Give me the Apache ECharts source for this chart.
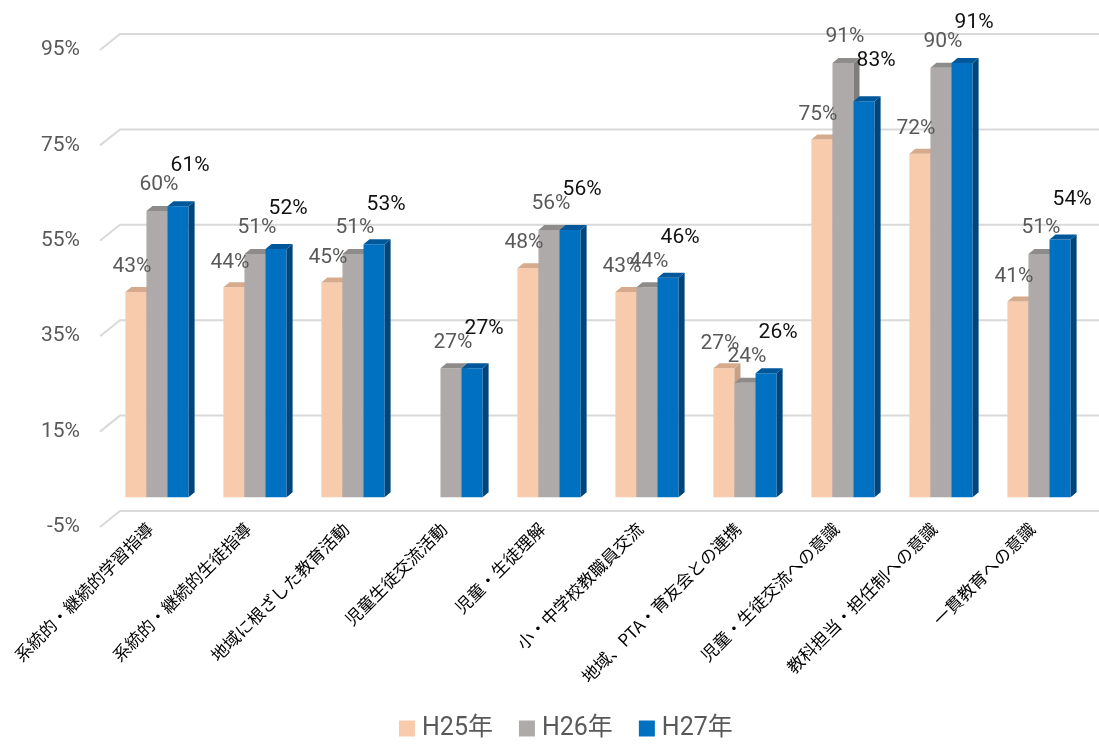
<!DOCTYPE html>
<html>
<head>
<meta charset="utf-8">
<script src="https://cdn.jsdelivr.net/npm/echarts@6/dist/echarts.min.js"></script>
<style>
  html, body { margin: 0; padding: 0; background: #fff; }
  #chart { width: 1099px; height: 746px; }
</style>
</head>
<body>
<div id="chart"></div>
<script>
// Categories and yearly percentages
const categories = [
  '系統的・継続的学習指導',
  '系統的・継続的生徒指導',
  '地域に根ざした教育活動',
  '児童生徒交流活動',
  '児童・生徒理解',
  '小・中学校教職員交流',
  '地域、PTA・育友会との連携',
  '児童・生徒交流への意識',
  '教科担当・担任制への意識',
  '一貫教育への意識'
];
const years = ['H25年', 'H26年', 'H27年'];
const h25 = [43, 44, 45, null, 48, 43, 27, 75, 72, 41];
const h26 = [60, 51, 51, 27, 56, 44, 24, 91, 90, 51];
const h27 = [61, 52, 53, 27, 56, 46, 26, 83, 91, 54];
const yMin = -5;
const yMax = 95;
const yStep = 20;
const yTicks = [-5, 15, 35, 55, 75, 95];

// Shading for each year: front face, side face, top face, label colour
const palette = [
  { front: '#F8CBAD', side: '#C79F84', top: '#D6AA8C', label: '#595959' },
  { front: '#AEAAAA', side: '#807D7D', top: '#8E8B8B', label: '#595959' },
  { front: '#0070C0', side: '#00467D', top: '#00589A', label: '#111111' }
];
// Label offsets (dx, rise above the front top edge) per year
const labelShift = [[-4, 25], [2, 26], [12, 40]];

const DEPTH_X = 6, DEPTH_Y = 5;   // extrusion of the columns
const LIFT = 6;                    // columns sit slightly behind the front axis plane
const SHIFT_X = 7;                 // and slightly to the right of the label ticks

function barRenderer(k) {
  const c = palette[k];
  return function (params, api) {
    const v = api.value(1);
    if (v == null || isNaN(v)) return;
    const idx = api.value(0);
    const topPt = api.coord([idx, v]);
    const basePt = api.coord([idx, 0]);
    const band = api.size([1, 0])[0];
    const w = band * 0.215;
    const cx = topPt[0] + SHIFT_X + (k - 1) * w;
    const x0 = cx - w / 2, x1 = cx + w / 2;
    const yTop = topPt[1] - LIFT, yBase = basePt[1] - LIFT;
    return {
      type: 'group',
      children: [
        { type: 'rect', shape: { x: x0, y: yTop, width: w, height: yBase - yTop },
          style: { fill: c.front } },
        { type: 'polygon', shape: { points: [[x1, yTop], [x1 + DEPTH_X, yTop - DEPTH_Y], [x1 + DEPTH_X, yBase - DEPTH_Y], [x1, yBase]] },
          style: { fill: c.side } },
        { type: 'polygon', shape: { points: [[x0, yTop], [x0 + DEPTH_X, yTop - DEPTH_Y], [x1 + DEPTH_X, yTop - DEPTH_Y], [x1, yTop]] },
          style: { fill: c.top } },
        { type: 'text', z2: 10,
          style: { text: v + '%', x: cx + labelShift[k][0], y: yTop - labelShift[k][1],
                   align: 'center', verticalAlign: 'middle',
                   fill: c.label, fontSize: 21, fontFamily: 'Roboto, sans-serif' } }
      ]
    };
  };
}

// Back-wall gridlines with the slanted floor edge on the left
function wallRenderer(params, api) {
  const cs = params.coordSys;
  const y = api.coord([0, api.value(1)])[1];
  return {
    type: 'polyline',
    shape: { points: [[cs.x - 1, y], [cs.x + 19, y - 16], [cs.x + cs.width + 30, y - 16]] },
    style: { stroke: '#D9D9D9', lineWidth: 2, fill: null }
  };
}

const seriesData = [h25, h26, h27];

const option = {
  backgroundColor: '#ffffff',
  animation: false,
  grid: { left: 101, right: 18, top: 50, bottom: 219, containLabel: false },
  legend: {
    data: years.map(n => ({ name: n, icon: 'rect' })),
    left: 399, top: 716, padding: 0,
    itemWidth: 16, itemHeight: 16, itemGap: 26,
    textStyle: { fontSize: 25, color: '#595959', fontFamily: 'Roboto, "Noto Sans CJK JP", sans-serif', padding: [0, 0, 0, 2] }
  },
  xAxis: {
    type: 'category',
    data: categories,
    axisLine: { show: false },
    axisTick: { show: false },
    splitLine: { show: false },
    axisLabel: {
      rotate: 45, interval: 0, margin: -1,
      fontSize: 17, color: '#000000',
      fontFamily: '"Noto Sans CJK JP", sans-serif', fontWeight: 'normal'
    }
  },
  yAxis: {
    type: 'value',
    min: yMin, max: yMax, interval: yStep,
    axisLine: { show: false },
    axisTick: { show: false },
    splitLine: { show: false },
    axisLabel: {
      formatter: '{value}%', margin: 21,
      fontSize: 21, color: '#595959', fontFamily: 'Roboto, sans-serif'
    }
  },
  series: [
    {
      name: 'wall', type: 'custom', silent: true, z: 1,
      renderItem: wallRenderer,
      encode: { x: 0, y: 1 },
      data: yTicks.map(t => [0, t])
    }
  ].concat(years.map((name, k) => ({
    name: name,
    type: 'custom',
    z: 2,
    itemStyle: { color: palette[k].front },
    renderItem: barRenderer(k),
    encode: { x: 0, y: 1 },
    data: seriesData[k].map((v, i) => [i, v == null ? '-' : v])
  })))
};

const chart = echarts.init(document.getElementById('chart'), null, { renderer: 'canvas' });
chart.setOption(option);
</script>
</body>
</html>
